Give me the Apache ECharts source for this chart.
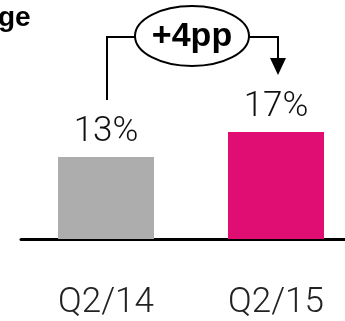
<!DOCTYPE html>
<html>
<head>
<meta charset="utf-8">
<script src="https://cdn.jsdelivr.net/npm/echarts@6/dist/echarts.min.js"></script>
<style>
html,body{margin:0;padding:0;background:#fff;}
#chart{width:345px;height:321px;}
</style>
</head>
<body>
<div id="chart"></div>
<script>
var categories = ['Q2/14', 'Q2/15'];
var values = [13, 17];
var barColors = ['#ADADAD', '#E00D72'];
var changeLabel = '+4pp';
var titleFragment = 'ge';

var chart = echarts.init(document.getElementById('chart'));
var lightFont = 'Roboto';
var option = {
  animation: false,
  grid: { left: 21, width: 340, top: 113, bottom: 82, outerBoundsMode: 'none', containLabel: false },
  xAxis: {
    type: 'category',
    data: categories,
    axisLine: { lineStyle: { color: '#000', width: 3 } },
    axisTick: { show: false },
    axisLabel: { color: '#222', fontFamily: lightFont, fontWeight: 300, fontSize: 35, lineHeight: 36, margin: 46 }
  },
  yAxis: { type: 'value', min: 0, max: 20, show: false },
  series: [{
    type: 'bar',
    barWidth: 96,
    data: values.map(function (v, i) { return { value: v, itemStyle: { color: barColors[i] } }; }),
    label: {
      show: true, position: 'top', distance: 7,
      formatter: '{c}%', color: '#111', fontFamily: lightFont, fontWeight: 300, fontSize: 35
    }
  }]
};
chart.setOption(option);

var p1 = chart.convertToPixel({ seriesIndex: 0 }, [0, values[0]]);
var p2 = chart.convertToPixel({ seriesIndex: 0 }, [1, values[1]]);
var cx = (p1[0] + p2[0]) / 2 + 1, cy = 36, rx = 57, ry = 30;
var lineY = 37;
chart.setOption({
  graphic: [
    { type: 'text', x: -2, y: 4, style: { text: titleFragment, fontFamily: 'Liberation Sans', fontWeight: 'bold', fontSize: 28, fill: '#000' } },
    { type: 'polyline', shape: { points: [[p1[0] + 1, p1[1] - 57], [p1[0] + 1, lineY], [cx - rx, lineY]] }, style: { stroke: '#000', lineWidth: 2, fill: null } },
    { type: 'polyline', shape: { points: [[cx + rx, lineY], [p2[0] + 2, lineY], [p2[0] + 2, 60]] }, style: { stroke: '#000', lineWidth: 2, fill: null } },
    { type: 'polygon', shape: { points: [[p2[0] - 6, 58], [p2[0] + 10, 58], [p2[0] + 2, 75]] }, style: { fill: '#000' } },
    { type: 'ellipse', shape: { cx: cx, cy: cy, rx: rx, ry: ry }, style: { stroke: '#000', lineWidth: 2, fill: '#fff' } },
    { type: 'text', x: cx, y: cy + 1, style: { text: changeLabel, fontFamily: 'Liberation Sans', fontWeight: 'bold', fontSize: 34, fill: '#000', align: 'center', verticalAlign: 'middle' } }
  ]
});
</script>
</body>
</html>
